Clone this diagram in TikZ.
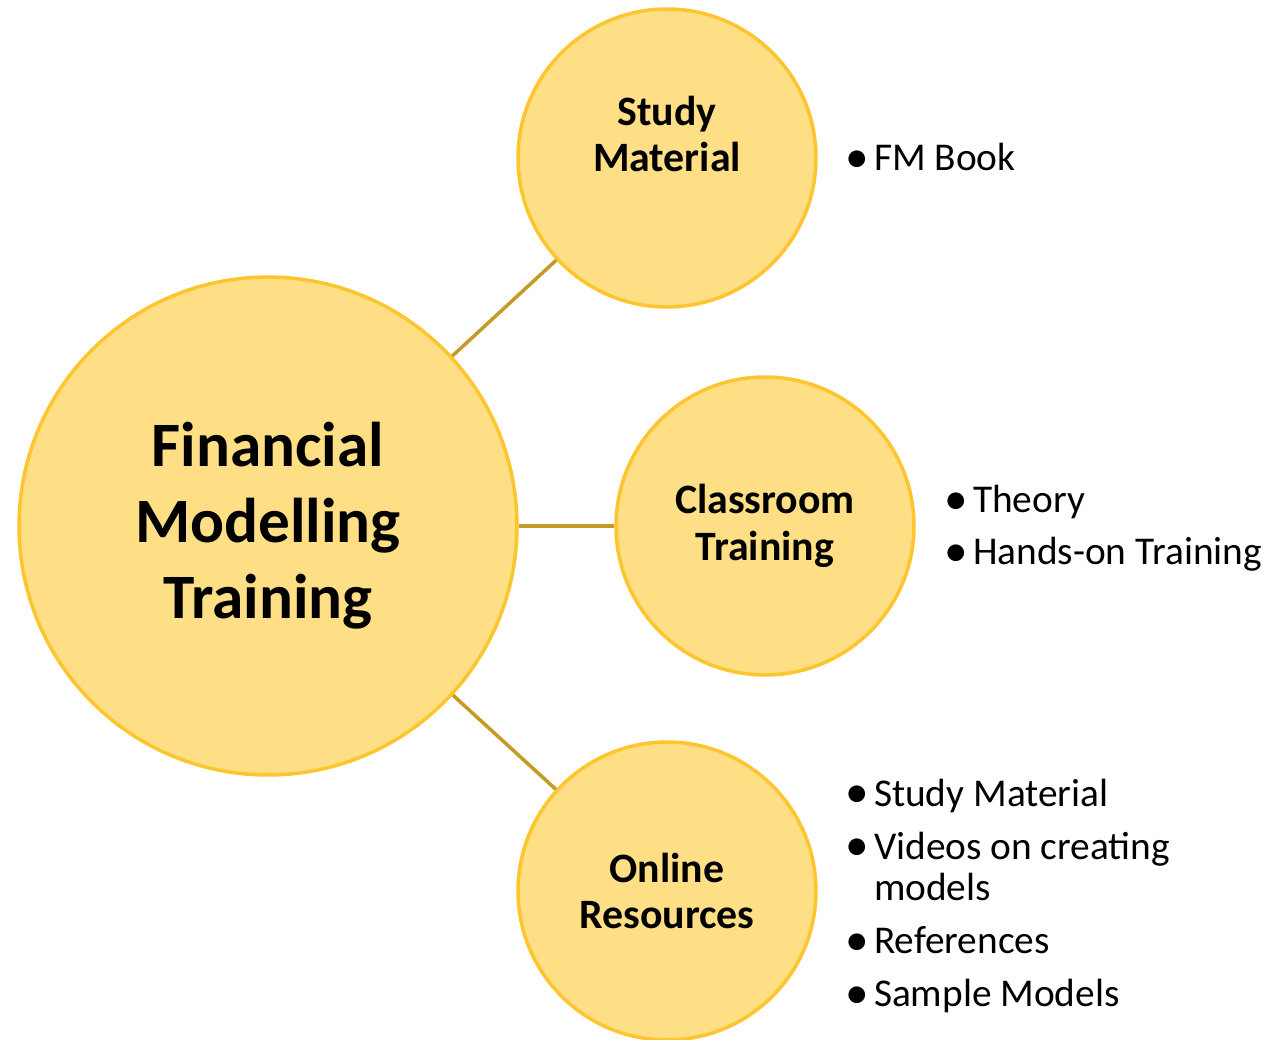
\documentclass[tikz,border=0pt]{standalone}
\usepackage{fontspec}
\setmainfont{Carlito}
\usetikzlibrary{positioning}

\definecolor{circfill}{HTML}{FFDF85}
\definecolor{circedge}{HTML}{FFC52F}
\definecolor{linkgold}{HTML}{C49B26}

\newcommand{\bul}{\makebox[0.48cm][l]{\hspace*{-2.6pt}\raisebox{-1.1pt}{\scalebox{1.2}{\textbullet}}}}

\begin{document}
\begin{tikzpicture}[x=0.02cm,y=-0.02cm,
  hub/.style={draw=circedge, fill=circfill, line width=2pt, circle,
    minimum size=9.96cm, inner sep=0pt, align=center,
    font=\bfseries\fontsize{36}{43.3}\selectfont},
  spoke/.style={hub, minimum size=5.96cm,
    font=\bfseries\fontsize{23.8}{26.7}\selectfont},
  link/.style={draw=linkgold, line width=2pt},
  bullets/.style={align=left, inner sep=0pt,
    font=\fontsize{22.4}{23.9}\selectfont}]
\useasboundingbox (0,0) rectangle (1268,1040);

% circles
\node[hub] (fmt) at (268,526) {Financial\\Modelling\\Training};
\node[spoke] (study) at (667,158) {};
\node[spoke, draw=none, fill=none, minimum size=0pt] (studytext) at (667,134) {Study\\Material};
\node[spoke] (class) at (765,526) {Classroom\\Training};
\node[spoke] (online) at (667,891) {Online\\Resources};

% links
\draw[link] (fmt) -- (study);
\draw[link] (fmt) -- (class);
\draw[link] (fmt) -- (online);

% bullet lists
\node[bullets, right=0.64cm of study] (studylist) {\bul FM Book};
\node[bullets, right=0.66cm of class, yshift=-0.05cm] (classlist) {\bul Theory\\[0.2cm]\bul Hands-on Training};
\node[bullets, right=0.64cm of online, yshift=-0.1cm] (onlinelist) {\bul Study Material\\[0.22cm]
  \bul Videos on creating\\\hspace*{0.48cm}models\\[0.22cm]
  \bul References\\[0.22cm]
  \bul Sample Models};
\end{tikzpicture}
\end{document}
